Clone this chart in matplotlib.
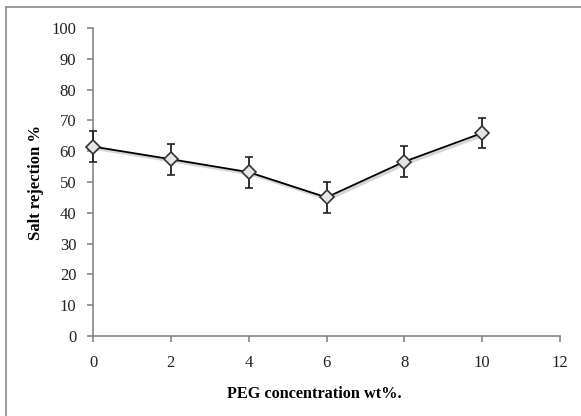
import numpy as np
import matplotlib.pyplot as plt
from matplotlib.lines import Line2D

plt.rcParams['font.family'] = ['Liberation Serif', 'DejaVu Serif']

# PEG content vs salt rejection
peg_wt = [0, 2, 4, 6, 8, 10]
rejection = [61.5, 57.4, 53.2, 45.0, 56.6, 65.9]
rejection_err = [5, 5, 5, 5, 5, 5]

fig = plt.figure(figsize=(5.81, 4.16), dpi=100)
ax = fig.add_axes([93 / 581, 80 / 416, 467 / 581, 308 / 416])

# chart border (top and left only visible)
fig.add_artist(Line2D([6 / 581, 6 / 581], [0, 1 - 7 / 416], color='#8c8c8c', lw=1.2,
                      transform=fig.transFigure))
fig.add_artist(Line2D([6 / 581, 1], [1 - 7 / 416, 1 - 7 / 416], color='#8c8c8c', lw=1.2,
                      transform=fig.transFigure))

# soft shadow under the line
ax.plot(np.array(peg_wt) + 0.05, np.array(rejection) - 0.6, color='#bbbbbb', lw=2.2,
        zorder=1, alpha=0.6, clip_on=False)
eb = ax.errorbar(peg_wt, rejection, yerr=rejection_err, color='black', lw=1.3,
                 ecolor='#222222', elinewidth=1.3, capsize=3, capthick=1.5,
                 marker='D', markersize=7, markerfacecolor='#e6e6e6',
                 markeredgecolor='#333333', markeredgewidth=1.2, zorder=3)
for art in [eb[0], *eb[1], *eb[2]]:
    art.set_clip_on(False)

ax.set_xlim(0, 12)
ax.set_ylim(0, 100)
ax.set_xticks(range(0, 13, 2))
ax.set_yticks(range(0, 101, 10))
for side in ['top', 'right']:
    ax.spines[side].set_visible(False)
for side in ['left', 'bottom']:
    ax.spines[side].set_color('#868686')
    ax.spines[side].set_linewidth(1.2)
ax.tick_params(axis='both', direction='out', length=4, width=1.2, color='#868686',
               labelsize=12, labelcolor='#222222')
ax.tick_params(axis='x', pad=10)
ax.tick_params(axis='y', pad=8)

ax.set_xlabel('PEG concentration wt%.', fontsize=11.7, fontweight='bold')
ax.xaxis.set_label_coords(0.473, -0.163)
ax.set_ylabel('Salt rejection %', fontsize=12, fontweight='bold')
ax.yaxis.set_label_coords(-0.104, 0.5)

fig.savefig('out.png', dpi=100)
